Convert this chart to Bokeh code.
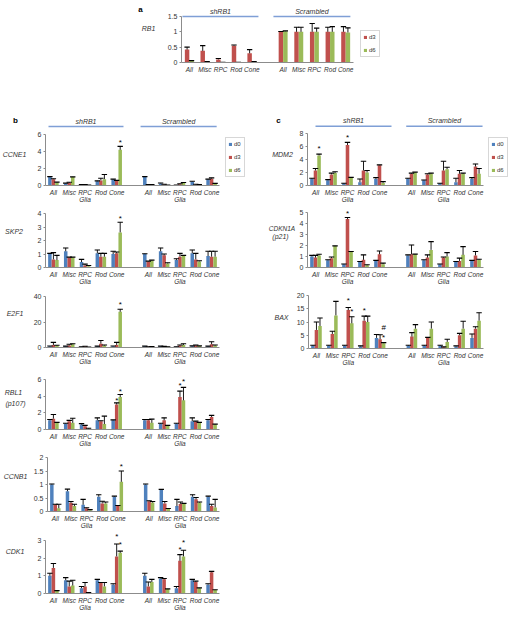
from bokeh.plotting import figure
from bokeh.models import (Range1d, FixedTicker, Legend, LegendItem,
                          ColumnDataSource, Spacer)
from bokeh.layouts import column, row
from bokeh.embed import file_html
from bokeh.resources import INLINE
from bokeh.core.properties import value

# ------------------------------------------------------------------ data
GROUPS = ["shRB1", "Scrambled"]
CELL_TYPES = ["All", "Misc", "RPC", "Rod", "Cone"]
CELL_TICKS_BC = ["All", "Misc", "RPC\nGlia", "Rod", "Cone"]
SERIES_A = ["d3", "d6"]
SERIES_BC = ["d0", "d3", "d6"]
# each list: shRB1 All, Misc, RPC, Rod, Cone, then Scrambled All, Misc, RPC, Rod, Cone

RB1_d3 = [0.42, 0.38, 0.10, 0.55, 0.30, 1.00, 1.00, 1.00, 1.00, 1.00]
RB1_d3_err = [0.08, 0.17, 0.03, 0.02, 0.12, 0.01, 0.15, 0.27, 0.15, 0.17]
RB1_d6 = [0.05, 0.02, 0.01, 0.01, 0.02, 1.02, 1.00, 1.00, 1.00, 0.98]
RB1_d6_err = [0.01, 0.01, 0.00, 0.00, 0.01, 0.01, 0.15, 0.12, 0.17, 0.15]

CCNE1_d0 = [1.00, 0.25, 0.08, 0.50, 0.70, 1.00, 0.25, 0.05, 0.45, 0.70]
CCNE1_d0_err = [0.05, 0.03, 0.02, 0.05, 0.05, 0.05, 0.05, 0.01, 0.05, 0.05]
CCNE1_d3 = [0.75, 0.30, 0.08, 0.60, 0.55, 0.10, 0.10, 0.15, 0.10, 0.80]
CCNE1_d3_err = [0.05, 0.08, 0.02, 0.25, 0.05, 0.02, 0.05, 0.05, 0.05, 0.10]
CCNE1_d6 = [0.35, 1.00, 0.05, 0.75, 4.20, 0.10, 0.05, 0.30, 0.10, 0.20]
CCNE1_d6_err = [0.05, 0.02, 0.01, 0.55, 0.40, 0.02, 0.01, 0.05, 0.01, 0.05]

SKP2_d0 = [1.00, 1.20, 0.40, 1.05, 1.00, 1.00, 1.20, 0.55, 1.05, 0.85]
SKP2_d0_err = [0.05, 0.25, 0.20, 0.25, 0.20, 0.02, 0.25, 0.10, 0.25, 0.35]
SKP2_d3 = [0.60, 0.75, 0.15, 0.80, 1.05, 0.45, 0.90, 0.80, 0.60, 0.80]
SKP2_d3_err = [0.50, 0.02, 0.10, 0.25, 0.10, 0.02, 0.10, 0.25, 0.45, 0.40]
SKP2_d6 = [0.55, 0.75, 0.10, 0.80, 2.60, 0.50, 0.30, 0.85, 0.45, 0.80]
SKP2_d6_err = [0.35, 0.02, 0.05, 0.25, 0.75, 0.05, 0.05, 0.05, 0.05, 0.40]

E2F1_d0 = [1.0, 1.0, 0.5, 1.0, 1.0, 1.0, 1.0, 0.5, 1.0, 1.0]
E2F1_d0_err = [0.2, 0.1, 0.1, 0.1, 0.2, 0.1, 0.1, 0.1, 0.3, 0.1]
E2F1_d3 = [2.0, 1.5, 0.8, 3.0, 2.0, 0.5, 0.8, 1.5, 1.5, 2.5]
E2F1_d3_err = [2.0, 1.0, 0.2, 2.5, 2.0, 0.1, 0.1, 0.5, 0.5, 2.0]
E2F1_d6 = [1.5, 2.5, 0.3, 1.5, 28.0, 0.6, 0.5, 2.0, 1.2, 1.5]
E2F1_d6_err = [0.3, 0.5, 0.1, 0.5, 2.0, 0.1, 0.1, 1.0, 0.1, 0.5]

RBL1_d0 = [1.1, 0.7, 0.6, 1.1, 1.1, 1.1, 0.7, 0.7, 1.0, 1.1]
RBL1_d0_err = [0.1, 0.05, 0.1, 0.3, 0.05, 0.1, 0.05, 0.05, 0.4, 0.1]
RBL1_d3 = [1.3, 1.0, 0.4, 1.0, 3.0, 1.1, 1.1, 3.9, 0.95, 1.5]
RBL1_d3_err = [0.5, 0.1, 0.1, 0.05, 0.2, 0.1, 0.3, 0.7, 0.05, 0.2]
RBL1_d6 = [0.8, 0.8, 0.1, 0.65, 3.9, 0.8, 0.45, 3.5, 0.8, 0.6]
RBL1_d6_err = [0.05, 0.55, 0.05, 0.95, 0.3, 0.45, 0.05, 1.55, 0.05, 0.05]

CCNB1_d0 = [1.0, 0.75, 0.25, 0.55, 0.55, 1.0, 0.8, 0.2, 0.55, 0.55]
CCNB1_d0_err = [0.02, 0.08, 0.2, 0.07, 0.02, 0.02, 0.02, 0.25, 0.07, 0.02]
CCNB1_d3 = [0.25, 0.32, 0.12, 0.3, 0.2, 0.38, 0.3, 0.28, 0.45, 0.2]
CCNB1_d3_err = [0.02, 0.05, 0.02, 0.08, 0.02, 0.02, 0.07, 0.07, 0.07, 0.07]
CCNB1_d6 = [0.12, 0.2, 0.05, 0.3, 1.1, 0.33, 0.1, 0.28, 0.33, 0.15]
CCNB1_d6_err = [0.15, 0.07, 0.02, 0.05, 0.4, 0.04, 0.01, 0.02, 0.02, 0.3]

CDK1_d0 = [1.0, 0.75, 0.3, 0.75, 0.5, 1.0, 0.85, 0.3, 0.75, 0.5]
CDK1_d0_err = [0.15, 0.15, 0.1, 0.05, 0.05, 0.15, 0.05, 0.1, 0.05, 0.05]
CDK1_d3 = [1.45, 0.4, 0.4, 0.6, 2.1, 0.4, 0.8, 1.85, 0.65, 1.2]
CDK1_d3_err = [0.25, 0.3, 0.22, 0.02, 0.7, 0.25, 0.05, 0.35, 0.05, 0.05]
CDK1_d6 = [0.15, 0.45, 0.05, 0.4, 2.3, 0.65, 0.25, 2.1, 0.3, 0.2]
CDK1_d6_err = [0.01, 0.3, 0.01, 0.22, 0.1, 0.15, 0.01, 0.35, 0.02, 0.01]

MDM2_d0 = [1.0, 0.8, 0.3, 0.5, 1.0, 1.0, 0.8, 0.3, 0.5, 1.0]
MDM2_d0_err = [0.1, 0.1, 0.05, 0.5, 0.2, 0.1, 0.05, 0.05, 0.6, 0.2]
MDM2_d3 = [2.3, 1.7, 6.2, 2.3, 3.1, 1.8, 1.7, 2.3, 1.8, 2.9]
MDM2_d3_err = [0.3, 0.2, 0.4, 1.4, 0.05, 0.1, 0.1, 1.4, 0.5, 0.4]
MDM2_d6 = [4.6, 1.9, 1.2, 2.0, 0.4, 2.0, 1.8, 2.5, 1.8, 1.8]
MDM2_d6_err = [0.2, 0.2, 0.05, 0.3, 0.2, 0.05, 0.1, 0.3, 0.1, 0.8]

CDKN1A_d0 = [1.0, 0.65, 0.3, 0.5, 0.6, 1.1, 0.65, 0.3, 0.5, 0.6]
CDKN1A_d0_err = [0.1, 0.05, 0.02, 0.05, 0.05, 0.05, 0.05, 0.02, 0.05, 0.05]
CDKN1A_d3 = [0.9, 0.85, 4.4, 0.7, 1.2, 1.2, 0.9, 0.9, 0.6, 1.1]
CDKN1A_d3_err = [0.2, 0.1, 0.15, 0.45, 0.3, 0.85, 0.25, 0.05, 0.25, 0.35]
CDKN1A_d6 = [1.1, 1.95, 1.4, 0.2, 0.3, 1.2, 1.6, 1.0, 1.15, 0.7]
CDKN1A_d6_err = [0.1, 0.02, 0.05, 0.05, 0.1, 0.02, 0.75, 0.35, 0.75, 0.05]

BAX_d0 = [1.0, 1.0, 1.0, 0.8, 4.0, 1.0, 1.0, 1.0, 0.8, 4.0]
BAX_d0_err = [0.2, 0.2, 0.2, 0.2, 1.3, 0.2, 0.2, 0.2, 0.2, 1.5]
BAX_d3 = [7.0, 5.5, 14.5, 10.5, 3.5, 4.5, 4.0, 0.5, 5.0, 7.5]
BAX_d3_err = [3.0, 1.0, 1.0, 1.7, 1.7, 1.5, 0.2, 0.1, 0.7, 0.7]
BAX_d6 = [8.5, 12.5, 9.5, 10.0, 2.0, 7.5, 7.5, 2.5, 7.5, 10.5]
BAX_d6_err = [3.0, 5.3, 2.5, 2.2, 0.2, 1.5, 2.5, 1.0, 2.8, 3.0]

# significance marks: (bar index 0-9, series, y value, symbol)
CCNE1_marks = [(4, "d6", 5.1, "*")]
SKP2_marks = [(4, "d6", 3.6, "*")]
E2F1_marks = [(4, "d6", 34.0, "*")]
RBL1_marks = [(4, "d3", 3.5, "*"), (4, "d6", 4.6, "*"), (7, "d3", 5.3, "*"), (7, "d6", 5.8, "*")]
CCNB1_marks = [(4, "d6", 1.65, "*")]
CDK1_marks = [(4, "d3", 3.2, "*"), (4, "d6", 2.8, "*"), (7, "d3", 2.5, "*"), (7, "d6", 2.9, "*")]
MDM2_marks = [(0, "d6", 5.6, "*"), (2, "d3", 7.4, "*")]
CDKN1A_marks = [(2, "d3", 4.9, "*")]
BAX_marks = [(2, "d3", 18.3, "*"), (2, "d6", 13.8, "*"), (3, "d3", 14.5, "*"),
             (4, "d6", 7.8, "#"), (4, "d6", 4.0, "*")]

# ------------------------------------------------------------------ style
FONT = "Liberation Sans"
TXT = "#333333"
AXIS = "#8c8c8c"
HEADER_BLUE = "#7f9fd6"
COLORS = {"d0": "#4F81BD", "d3": "#C0504D", "d6": "#9BBB59"}


def pos_of(i):
    return i if i < 5 else i + 1


def blank_fig(w, h, xr, yr):
    p = figure(width=w, height=h, x_range=xr, y_range=yr,
               output_backend="svg", toolbar_location=None, title=None,
               x_axis_location=None, y_axis_location=None, min_border=0)
    p.outline_line_color = None
    p.grid.visible = False
    p.background_fill_color = "white"
    p.border_fill_color = "white"
    return p


def label_fig(x0, x1, y0, y1, items):
    """Strip holding the texts left of a chart (page pixel coordinates)."""
    p = blank_fig(x1 - x0, y1 - y0, Range1d(x0, x1), Range1d(y1, y0))
    for txt, px, py, style, size in items:
        p.text(x=[px], y=[py], text=[txt], text_font=value(FONT), text_font_style=style,
               text_font_size=size, text_color=TXT if style != "bold" else "black",
               text_align="center", text_baseline="middle")
    return p


def legend_block(x0, x1, y0, y1, series, ly):
    """Legend column: spacer down to the legend's top edge, then a strip with the legend."""
    p = blank_fig(x1 - x0, y1 - ly, Range1d(0, 1), Range1d(0, 1))
    rs = {s: p.vbar(x=[5], top=[1], width=0.1, fill_color=COLORS[s], line_color=None)
          for s in series}
    leg = Legend(items=[LegendItem(label=s, renderers=[rs[s]]) for s in series],
                 location="top_left",
                 background_fill_color="white", border_line_color="#b0b0b0",
                 border_line_width=1, label_text_font=FONT, label_text_font_size="6px",
                 label_text_color=TXT, glyph_width=4, glyph_height=4,
                 label_height=8, label_width=8, spacing=5, padding=2, margin=0,
                 label_standoff=2)
    p.add_layout(leg)
    return column(Spacer(width=x1 - x0, height=ly - y0), p, spacing=0)


def make_chart(L, series, vals, errs, marks, tick_labels):
    x0 = L["cx"]
    W = L["cr"] - x0
    H = L["fb"] - L["ft"]
    scale = (L["ab"] - L["at"]) / L["ymax"]
    y_end = (L["ab"] - L["frt"]) / scale
    p = figure(width=W, height=H, x_range=Range1d(-0.5, 10.5), y_range=Range1d(0, y_end),
               output_backend="svg", toolbar_location=None, title=None,
               min_border_left=L["fl"] - x0, min_border_right=x0 + W - L["fr"],
               min_border_top=L["frt"] - L["ft"], min_border_bottom=L["fb"] - L["ab"])
    p.outline_line_color = None
    p.xgrid.visible = False
    p.ygrid.visible = False
    p.background_fill_color = "white"
    p.border_fill_color = "white"

    def dy(py):
        return (L["ab"] - py) / scale

    n = len(series)
    bw = 1.0 / (n + 1.5)
    offs = {s: (k - (n - 1) / 2.0) * bw for k, s in enumerate(series)}
    ex, ey0, ey1 = [], [], []
    for s in series:
        xs = [pos_of(i) + offs[s] for i in range(10)]
        src = ColumnDataSource(dict(x=xs, top=vals[s]))
        p.vbar(x="x", top="top", bottom=0, width=bw, source=src,
               fill_color=COLORS[s], line_color=None)
        for xi, v, e in zip(xs, vals[s], errs[s]):
            ex.append(xi); ey0.append(v); ey1.append(v + e)
    hw = 0.17
    esrc = ColumnDataSource(dict(x=ex, y0=ey0, y1=ey1,
                                 xl=[x - hw for x in ex], xr=[x + hw for x in ex]))
    p.segment(x0="x", y0="y0", x1="x", y1="y1", source=esrc, line_color="black", line_width=0.9)
    p.segment(x0="xl", y0="y1", x1="xr", y1="y1", source=esrc, line_color="black", line_width=1.1)

    if marks:
        msrc = ColumnDataSource(dict(x=[pos_of(i) + offs[s] for i, s, y, t in marks],
                                     y=[y for i, s, y, t in marks],
                                     t=[t for i, s, y, t in marks]))
        p.text(x="x", y="y", text="t", source=msrc, text_font=value(FONT),
               text_font_size="8px", text_color="black", text_align="center",
               text_baseline="middle")

    if "hdr" in L:
        yline = dy(L["hdr"])
        ytext = dy(L["hdr_text"])
        for (a, b), name in zip(L["spans"], GROUPS):
            p.segment(x0=[a], y0=[yline], x1=[b], y1=[yline], line_color=HEADER_BLUE, line_width=1.5)
            p.text(x=[(a + b) / 2.0], y=[ytext], text=[name], text_font=value(FONT),
                   text_font_style="italic", text_font_size="7px", text_color=TXT,
                   text_align="center", text_baseline="middle")

    # axes
    p.xaxis.ticker = FixedTicker(ticks=[pos_of(i) for i in range(10)])
    p.xaxis.major_label_overrides = {pos_of(i): tick_labels[i % 5] for i in range(10)}
    p.xaxis.major_label_text_font = FONT
    p.xaxis.major_label_text_font_style = "italic"
    p.xaxis.major_label_text_font_size = "6.5px"
    p.xaxis.major_label_text_color = TXT
    p.xaxis.major_label_text_line_height = 1.05
    p.xaxis.major_label_standoff = 3
    p.xaxis.major_tick_line_color = None
    p.xaxis.major_tick_out = 0
    p.xaxis.major_tick_in = 0
    p.xaxis.minor_tick_line_color = None
    p.xaxis.axis_line_color = AXIS

    p.yaxis.ticker = FixedTicker(ticks=L["ticks"])
    p.yaxis.bounds = (0, L["ymax"])
    p.yaxis.major_label_overrides = {t: f"{t:g}" for t in L["ticks"]}
    p.yaxis.major_label_text_font = FONT
    p.yaxis.major_label_text_font_size = "7px"
    p.yaxis.major_label_text_color = TXT
    p.yaxis.major_label_standoff = 2
    p.yaxis.major_tick_out = 2
    p.yaxis.major_tick_in = 0
    p.yaxis.major_tick_line_color = AXIS
    p.yaxis.minor_tick_line_color = None
    p.yaxis.axis_line_color = AXIS
    return p


def block(L, series, vals, errs, marks, tick_labels):
    parts = [label_fig(L["lx"], L["cx"], L["ft"], L["fb"], L["texts"]),
             make_chart(L, series, vals, errs, marks, tick_labels)]
    if "legend_top" in L:
        parts.append(legend_block(L["cr"], L["rx"], L["ft"], L["fb"], series, L["legend_top"]))
    return row(*parts, spacing=0)


def gene_data(d0, d3, d6, e0, e3, e6):
    return {"d0": d0, "d3": d3, "d6": d6}, {"d0": e0, "d3": e3, "d6": e6}


# ------------------------------------------------------------------ layout specs (page px)
IT, BD = "italic", "bold"
LA = dict(lx=0, cx=160, cr=360, rx=510, fl=181, fr=353, ft=0, frt=4, at=16, ab=62, fb=95,
          ymax=1.5, ticks=[0, 0.5, 1, 1.5], hdr=16, hdr_text=10.7,
          spans=[(-0.44, 4.42), (5.38, 10.3)], legend_top=30,
          texts=[("a", 140, 8, BD, "8px"), ("RB1", 148, 40, IT, "7px")])

B = dict(lx=0, cx=30, cr=225, rx=265, fl=45, fr=219)
LB = [
    dict(B, ft=95, frt=112, at=134, ab=185, fb=205, ymax=6, ticks=[0, 2, 4, 6],
         hdr=126, hdr_text=120.5, spans=[(-0.31, 4.43), (5.51, 10.32)], legend_top=137,
         texts=[("b", 15, 107, BD, "8px"), ("CCNE1", 14, 158, IT, "7px")]),
    dict(B, ft=205, frt=207, at=213, ab=267, fb=288, ymax=4, ticks=[0, 1, 2, 3, 4],
         texts=[("SKP2", 13.5, 238, IT, "7px")]),
    dict(B, ft=288, frt=290, at=296, ab=347, fb=370, ymax=40, ticks=[0, 20, 40],
         texts=[("E2F1", 14.5, 321, IT, "7px")]),
    dict(B, ft=370, frt=372, at=379, ab=429, fb=450, ymax=6, ticks=[0, 2, 4, 6],
         texts=[("RBL1", 13, 398, IT, "7px"), ("(p107)", 15, 413, IT, "7px")]),
    dict(B, ft=450, frt=452, at=457, ab=511, fb=532, ymax=2, ticks=[0, 0.5, 1, 1.5, 2],
         texts=[("CCNB1", 15, 484, IT, "7px")]),
    dict(B, ft=532, frt=533, at=540, ab=593, fb=617, ymax=3, ticks=[0, 1, 2, 3],
         texts=[("CDK1", 14.5, 557, IT, "7px")]),
]
C = dict(lx=265, cr=488, rx=510, fl=305, fr=483)
LC = [
    dict(C, cx=296, ft=95, frt=112, at=133, ab=186, fb=205, ymax=8,
         ticks=[0, 2, 4, 6, 8], hdr=126, hdr_text=120.5, spans=[(0.0, 4.75), (5.67, 10.44)],
         legend_top=137,
         texts=[("c", 278, 107, BD, "8px"), ("MDM2", 282, 158, IT, "7px")]),
    dict(C, cx=296, ft=205, frt=207, at=212, ab=267, fb=287, ymax=5,
         ticks=[0, 1, 2, 3, 4, 5],
         texts=[("CDKN1A", 281.5, 234, IT, "6.5px"), ("(p21)", 280, 244, IT, "7px")]),
    dict(C, cx=293, ft=287, frt=289, at=295, ab=348, fb=370, ymax=20,
         ticks=[0, 5, 10, 15, 20],
         texts=[("BAX", 281, 327, IT, "7px")]),
]

# ------------------------------------------------------------------ build
rowA = block(LA, SERIES_A, {"d3": RB1_d3, "d6": RB1_d6},
             {"d3": RB1_d3_err, "d6": RB1_d6_err}, [], CELL_TYPES)

b_sets = [
    (gene_data(CCNE1_d0, CCNE1_d3, CCNE1_d6, CCNE1_d0_err, CCNE1_d3_err, CCNE1_d6_err), CCNE1_marks),
    (gene_data(SKP2_d0, SKP2_d3, SKP2_d6, SKP2_d0_err, SKP2_d3_err, SKP2_d6_err), SKP2_marks),
    (gene_data(E2F1_d0, E2F1_d3, E2F1_d6, E2F1_d0_err, E2F1_d3_err, E2F1_d6_err), E2F1_marks),
    (gene_data(RBL1_d0, RBL1_d3, RBL1_d6, RBL1_d0_err, RBL1_d3_err, RBL1_d6_err), RBL1_marks),
    (gene_data(CCNB1_d0, CCNB1_d3, CCNB1_d6, CCNB1_d0_err, CCNB1_d3_err, CCNB1_d6_err), CCNB1_marks),
    (gene_data(CDK1_d0, CDK1_d3, CDK1_d6, CDK1_d0_err, CDK1_d3_err, CDK1_d6_err), CDK1_marks),
]
c_sets = [
    (gene_data(MDM2_d0, MDM2_d3, MDM2_d6, MDM2_d0_err, MDM2_d3_err, MDM2_d6_err), MDM2_marks),
    (gene_data(CDKN1A_d0, CDKN1A_d3, CDKN1A_d6, CDKN1A_d0_err, CDKN1A_d3_err, CDKN1A_d6_err), CDKN1A_marks),
    (gene_data(BAX_d0, BAX_d3, BAX_d6, BAX_d0_err, BAX_d3_err, BAX_d6_err), BAX_marks),
]

b_rows = [block(L, SERIES_BC, d[0], d[1], m, CELL_TICKS_BC) for L, (d, m) in zip(LB, b_sets)]
c_rows = [block(L, SERIES_BC, d[0], d[1], m, CELL_TICKS_BC) for L, (d, m) in zip(LC, c_sets)]

col_b = column(*b_rows, spacing=0)
col_c = column(*c_rows, Spacer(width=245, height=617 - 370), spacing=0)
layout = column(rowA, row(col_b, col_c, spacing=0), spacing=0)

open("out.html", "w").write(file_html(layout, INLINE))
